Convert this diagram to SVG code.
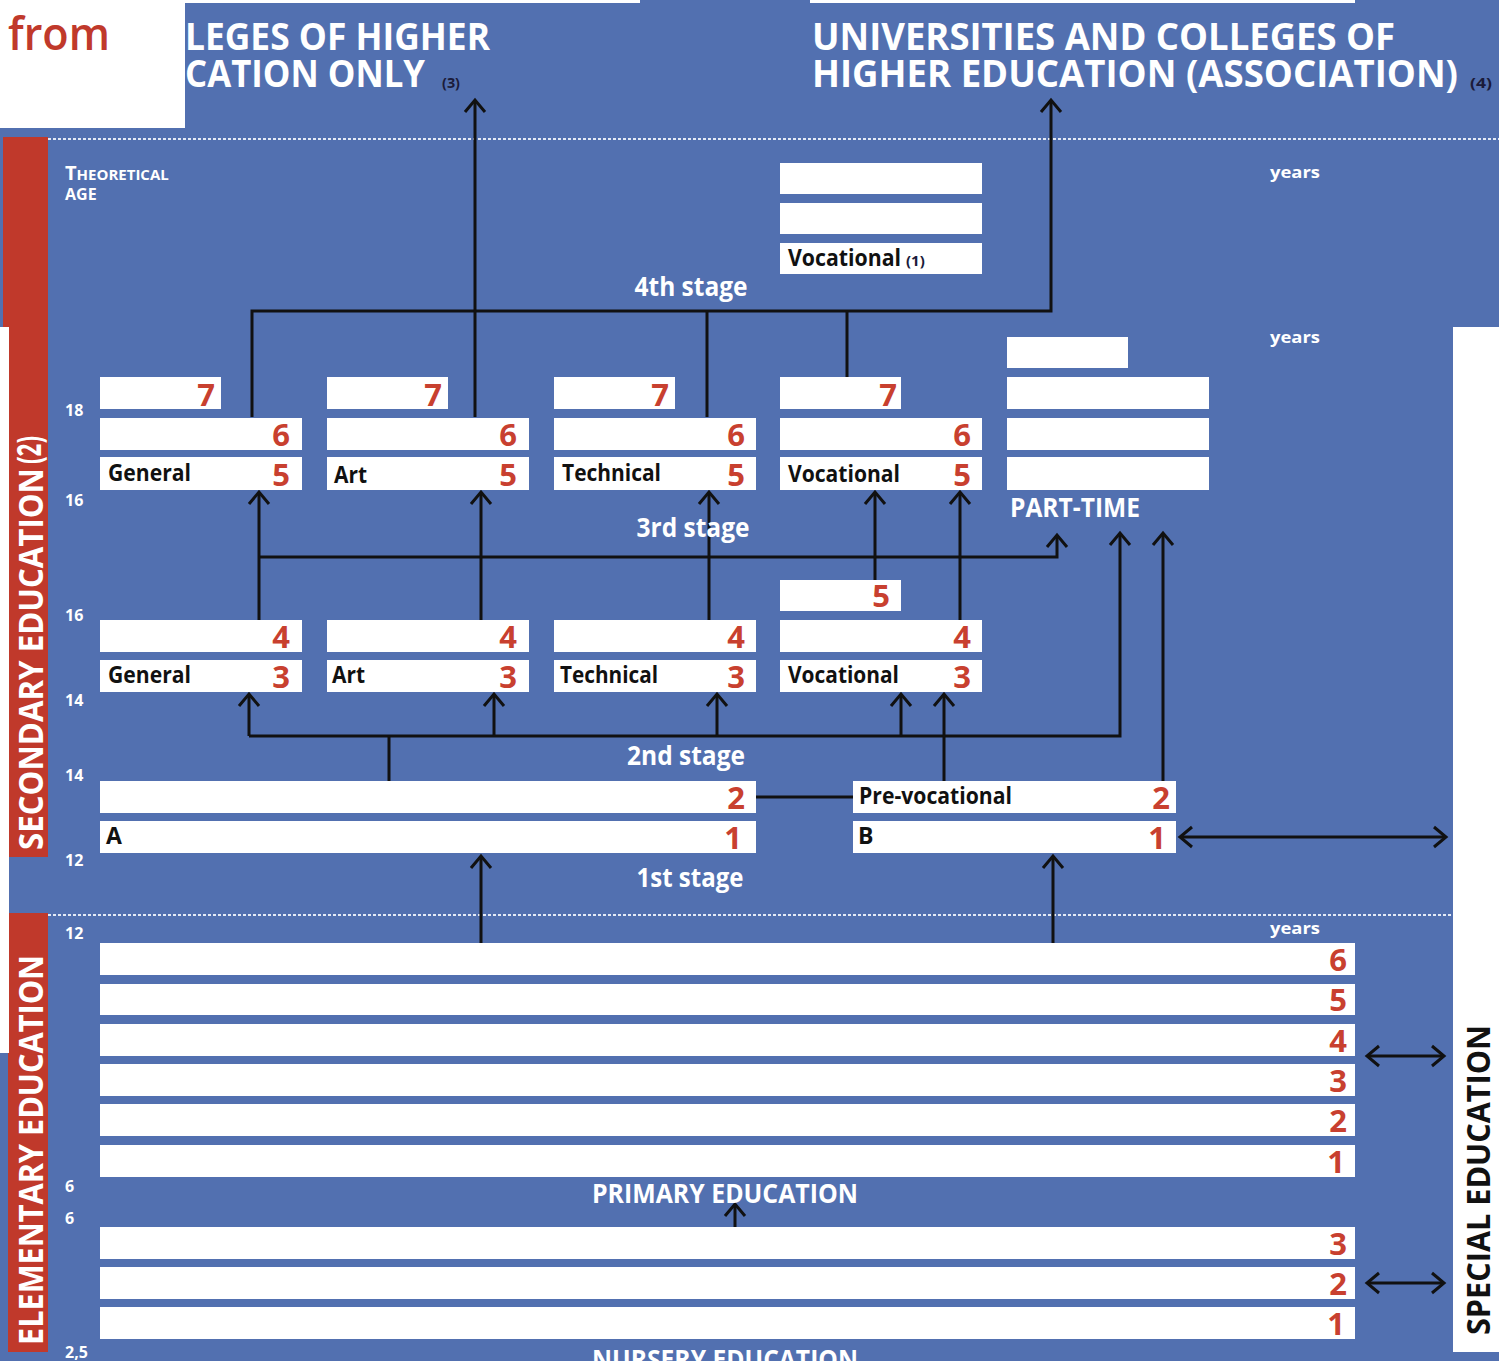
<svg xmlns="http://www.w3.org/2000/svg" width="1499" height="1361" viewBox="0 0 1499 1361">
<style>
.bg{fill:#5270b0}
.box{fill:#ffffff}
.num{font-family:"Open Sans","Liberation Sans",sans-serif;font-weight:bold;font-size:31px;fill:#c8402f;text-anchor:end}
.lbl{font-family:"Open Sans","Liberation Sans",sans-serif;font-weight:bold;font-size:23px;fill:#111111}
.stage{font-family:"Open Sans","Liberation Sans",sans-serif;font-weight:bold;font-size:27px;fill:#ffffff;text-anchor:middle}
.age{font-family:"Open Sans","Liberation Sans",sans-serif;font-weight:bold;font-size:16px;fill:#ffffff}
.title{font-family:"Open Sans","Liberation Sans",sans-serif;font-weight:bold;font-size:37px;fill:#ffffff}
.side{font-family:"Open Sans","Liberation Sans",sans-serif;font-weight:bold;font-size:34px;fill:#ffffff}
.note{font-family:"Open Sans","Liberation Sans",sans-serif;font-weight:bold;font-size:15px;fill:#1b1b3a}
.conn{stroke:#111111;stroke-width:3;fill:none}
.dots{stroke:#e3e9f5;stroke-width:2;stroke-dasharray:3 2}
</style>
<defs>
<marker id="ah" viewBox="-15 -13 18 26" markerWidth="18" markerHeight="26" refX="0" refY="0" orient="auto-start-reverse" markerUnits="userSpaceOnUse">
<path d="M-12,-10 L0,0 L-12,10" fill="none" stroke="#111111" stroke-width="3"/>
</marker>
</defs>

<rect class="bg" x="0" y="0" width="1499" height="1361"/>

<!-- top fragments -->
<rect class="box" x="185" y="0" width="455" height="3"/>
<rect class="box" x="810" y="0" width="545" height="3"/>

<!-- white corner with "from" -->
<g id="corner">
<rect class="box" x="0" y="0" width="185" height="128"/>
<text x="8" y="50" font-family="'Open Sans','Liberation Sans',sans-serif" font-weight="600" font-size="45" fill="#c0392b" textLength="102" lengthAdjust="spacingAndGlyphs">from</text>
</g>

<!-- titles -->
<g id="title-colleges">
<text class="title" x="185" y="50" textLength="305" lengthAdjust="spacingAndGlyphs">LEGES OF HIGHER</text>
<text class="title" x="185" y="87" textLength="240" lengthAdjust="spacingAndGlyphs">CATION ONLY</text>
<text class="note" x="442" y="88" textLength="18" lengthAdjust="spacingAndGlyphs">(3)</text>
</g>
<g id="title-universities">
<text class="title" x="812" y="50" textLength="583" lengthAdjust="spacingAndGlyphs">UNIVERSITIES AND COLLEGES OF</text>
<text class="title" x="812" y="87" textLength="646" lengthAdjust="spacingAndGlyphs">HIGHER EDUCATION (ASSOCIATION)</text>
<text class="note" x="1470" y="88" textLength="22" lengthAdjust="spacingAndGlyphs">(4)</text>
</g>

<!-- dotted separators -->
<line class="dots" x1="48" y1="139" x2="1499" y2="139"/>
<line class="dots" x1="48" y1="915" x2="1453" y2="915"/>

<!-- side bars -->
<g id="side-secondary">
<rect x="3" y="137" width="45" height="720" fill="#c0392b"/>
<text class="side" transform="translate(43,850) rotate(-90)" textLength="382" lengthAdjust="spacingAndGlyphs">SECONDARY EDUCATION</text>
<text class="side" transform="translate(41,464) rotate(-90)" font-size="18" textLength="28" lengthAdjust="spacingAndGlyphs">(2)</text>
</g>
<g id="side-elementary">
<rect x="8" y="913" width="40" height="439" fill="#c0392b"/>
<text class="side" transform="translate(43,1345) rotate(-90)" textLength="390" lengthAdjust="spacingAndGlyphs">ELEMENTARY EDUCATION</text>
</g>
<rect class="box" x="0" y="327" width="9" height="726"/>
<g id="special-education">
<rect class="box" x="1453" y="327" width="46" height="1025"/>
<text transform="translate(1490,1335) rotate(-90)" font-family="'Open Sans','Liberation Sans',sans-serif" font-weight="bold" font-size="33" fill="#111111" textLength="310" lengthAdjust="spacingAndGlyphs">SPECIAL EDUCATION</text>
</g>

<!-- age labels -->
<g id="ages">
<text class="age" x="65" y="180"><tspan font-size="20">T</tspan><tspan font-size="15">HEORETICAL</tspan></text>
<text class="age" x="65" y="200" font-size="15">AGE</text>
<text class="age" x="65" y="416">18</text>
<text class="age" x="65" y="506">16</text>
<text class="age" x="65" y="621">16</text>
<text class="age" x="65" y="706">14</text>
<text class="age" x="65" y="781">14</text>
<text class="age" x="65" y="866">12</text>
<text class="age" x="65" y="939">12</text>
<text class="age" x="65" y="1192">6</text>
<text class="age" x="65" y="1224">6</text>
<text class="age" x="65" y="1358">2,5</text>
<text class="age" x="1270" y="178" font-size="18" textLength="50" lengthAdjust="spacingAndGlyphs">years</text>
<text class="age" x="1270" y="343" font-size="18" textLength="50" lengthAdjust="spacingAndGlyphs">years</text>
<text class="age" x="1270" y="934" font-size="18" textLength="50" lengthAdjust="spacingAndGlyphs">years</text>
</g>

<!-- connectors -->
<g id="connectors">
<!-- 4th stage -->
<polyline class="conn" points="252,417 252,311 1051,311 1051,100" marker-end="url(#ah)"/>
<line class="conn" x1="475" y1="417" x2="475" y2="100" marker-end="url(#ah)"/>
<line class="conn" x1="707" y1="311" x2="707" y2="417"/>
<line class="conn" x1="847" y1="311" x2="847" y2="377"/>
<!-- 3rd stage -->
<polyline class="conn" points="259,557 1057,557 1057,535" marker-end="url(#ah)"/>
<line class="conn" x1="259" y1="620" x2="259" y2="492" marker-end="url(#ah)"/>
<line class="conn" x1="481" y1="620" x2="481" y2="492" marker-end="url(#ah)"/>
<line class="conn" x1="709" y1="620" x2="709" y2="492" marker-end="url(#ah)"/>
<line class="conn" x1="875" y1="580" x2="875" y2="492" marker-end="url(#ah)"/>
<line class="conn" x1="960" y1="620" x2="960" y2="492" marker-end="url(#ah)"/>
<!-- 2nd stage -->
<polyline class="conn" points="249,736 1120,736 1120,533" marker-end="url(#ah)"/>
<line class="conn" x1="249" y1="736" x2="249" y2="694" marker-end="url(#ah)"/>
<line class="conn" x1="494" y1="736" x2="494" y2="694" marker-end="url(#ah)"/>
<line class="conn" x1="717" y1="736" x2="717" y2="694" marker-end="url(#ah)"/>
<line class="conn" x1="901" y1="736" x2="901" y2="694" marker-end="url(#ah)"/>
<line class="conn" x1="944" y1="781" x2="944" y2="694" marker-end="url(#ah)"/>
<line class="conn" x1="389" y1="736" x2="389" y2="781"/>
<line class="conn" x1="1163" y1="781" x2="1163" y2="533" marker-end="url(#ah)"/>
<!-- 1st stage -->
<line class="conn" x1="756" y1="797" x2="853" y2="797"/>
<line class="conn" x1="1180" y1="837" x2="1446" y2="837" marker-start="url(#ah)" marker-end="url(#ah)"/>
<line class="conn" x1="481" y1="943" x2="481" y2="856" marker-end="url(#ah)"/>
<line class="conn" x1="1053" y1="943" x2="1053" y2="856" marker-end="url(#ah)"/>
<!-- elementary -->
<line class="conn" x1="735" y1="1227" x2="735" y2="1204" marker-end="url(#ah)"/>
<line class="conn" x1="1367" y1="1056" x2="1444" y2="1056" marker-start="url(#ah)" marker-end="url(#ah)"/>
<line class="conn" x1="1367" y1="1283" x2="1444" y2="1283" marker-start="url(#ah)" marker-end="url(#ah)"/>
</g>

<!-- 4th stage vocational -->
<g id="vocational-4th">
<rect class="box" x="780" y="163" width="202" height="31"/>
<rect class="box" x="780" y="203" width="202" height="31"/>
<rect class="box" x="780" y="243" width="202" height="31"/>
<text class="lbl" x="788" y="266" textLength="113" lengthAdjust="spacingAndGlyphs">Vocational</text>
<text class="note" x="906" y="266" font-size="15" fill="#111111">(1)</text>
</g>
<text class="stage" x="691" y="296" textLength="113" lengthAdjust="spacingAndGlyphs">4th stage</text>

<!-- 3rd stage -->
<g id="general-3rd">
<rect class="box" x="100" y="377" width="121" height="32"/>
<rect class="box" x="100" y="418" width="202" height="32"/>
<rect class="box" x="100" y="457" width="202" height="33"/>
<text class="num" x="215" y="406">7</text>
<text class="num" x="290" y="446">6</text>
<text class="num" x="290" y="486">5</text>
<text class="lbl" x="108" y="481" textLength="83" lengthAdjust="spacingAndGlyphs">General</text>
</g>
<g id="art-3rd">
<rect class="box" x="327" y="377" width="121" height="32"/>
<rect class="box" x="327" y="418" width="202" height="32"/>
<rect class="box" x="327" y="457" width="202" height="33"/>
<text class="num" x="442" y="406">7</text>
<text class="num" x="517" y="446">6</text>
<text class="num" x="517" y="486">5</text>
<text class="lbl" x="334" y="483" textLength="33" lengthAdjust="spacingAndGlyphs">Art</text>
</g>
<g id="technical-3rd">
<rect class="box" x="554" y="377" width="121" height="32"/>
<rect class="box" x="554" y="418" width="202" height="32"/>
<rect class="box" x="554" y="457" width="202" height="33"/>
<text class="num" x="669" y="406">7</text>
<text class="num" x="745" y="446">6</text>
<text class="num" x="745" y="486">5</text>
<text class="lbl" x="562" y="481" textLength="99" lengthAdjust="spacingAndGlyphs">Technical</text>
</g>
<g id="vocational-3rd">
<rect class="box" x="780" y="377" width="121" height="32"/>
<rect class="box" x="780" y="418" width="202" height="32"/>
<rect class="box" x="780" y="457" width="202" height="33"/>
<text class="num" x="897" y="406">7</text>
<text class="num" x="971" y="446">6</text>
<text class="num" x="971" y="486">5</text>
<text class="lbl" x="788" y="482" textLength="112" lengthAdjust="spacingAndGlyphs">Vocational</text>
</g>
<g id="part-time">
<rect class="box" x="1007" y="337" width="121" height="31"/>
<rect class="box" x="1007" y="377" width="202" height="32"/>
<rect class="box" x="1007" y="418" width="202" height="32"/>
<rect class="box" x="1007" y="457" width="202" height="33"/>
<text class="stage" x="1075" y="517" text-anchor="middle" textLength="130" lengthAdjust="spacingAndGlyphs">PART-TIME</text>
</g>
<text class="stage" x="693" y="537" textLength="113" lengthAdjust="spacingAndGlyphs">3rd stage</text>

<!-- middle 5 box -->
<g id="vocational-5">
<rect class="box" x="780" y="580" width="121" height="31"/>
<text class="num" x="890" y="607">5</text>
</g>

<!-- 2nd stage -->
<g id="general-2nd">
<rect class="box" x="100" y="620" width="202" height="32"/>
<rect class="box" x="100" y="660" width="202" height="32"/>
<text class="num" x="290" y="648">4</text>
<text class="num" x="290" y="688">3</text>
<text class="lbl" x="108" y="683" textLength="83" lengthAdjust="spacingAndGlyphs">General</text>
</g>
<g id="art-2nd">
<rect class="box" x="327" y="620" width="202" height="32"/>
<rect class="box" x="327" y="660" width="202" height="32"/>
<text class="num" x="517" y="648">4</text>
<text class="num" x="517" y="688">3</text>
<text class="lbl" x="332" y="683" textLength="33" lengthAdjust="spacingAndGlyphs">Art</text>
</g>
<g id="technical-2nd">
<rect class="box" x="554" y="620" width="202" height="32"/>
<rect class="box" x="554" y="660" width="202" height="32"/>
<text class="num" x="745" y="648">4</text>
<text class="num" x="745" y="688">3</text>
<text class="lbl" x="560" y="683" textLength="98" lengthAdjust="spacingAndGlyphs">Technical</text>
</g>
<g id="vocational-2nd">
<rect class="box" x="780" y="620" width="202" height="32"/>
<rect class="box" x="780" y="660" width="202" height="32"/>
<text class="num" x="971" y="648">4</text>
<text class="num" x="971" y="688">3</text>
<text class="lbl" x="788" y="683" textLength="111" lengthAdjust="spacingAndGlyphs">Vocational</text>
</g>
<text class="stage" x="686" y="765" textLength="118" lengthAdjust="spacingAndGlyphs">2nd stage</text>

<!-- 1st stage -->
<g id="stream-a">
<rect class="box" x="100" y="781" width="656" height="32"/>
<rect class="box" x="100" y="821" width="656" height="32"/>
<text class="num" x="745" y="809">2</text>
<text class="num" x="742" y="849">1</text>
<text class="lbl" x="106" y="844">A</text>
</g>
<g id="stream-b">
<rect class="box" x="853" y="781" width="323" height="32"/>
<rect class="box" x="853" y="821" width="323" height="32"/>
<text class="num" x="1170" y="809">2</text>
<text class="num" x="1166" y="849">1</text>
<text class="lbl" x="859" y="804" textLength="153" lengthAdjust="spacingAndGlyphs">Pre-vocational</text>
<text class="lbl" x="858" y="844" font-size="21">B</text>
</g>
<text class="stage" x="690" y="887" textLength="107" lengthAdjust="spacingAndGlyphs">1st stage</text>

<!-- primary -->
<g id="primary-education">
<rect class="box" x="100" y="943" width="1255" height="32"/>
<rect class="box" x="100" y="984" width="1255" height="31"/>
<rect class="box" x="100" y="1024" width="1255" height="32"/>
<rect class="box" x="100" y="1064" width="1255" height="32"/>
<rect class="box" x="100" y="1104" width="1255" height="32"/>
<rect class="box" x="100" y="1145" width="1255" height="32"/>
<text class="num" x="1347" y="971">6</text>
<text class="num" x="1347" y="1011">5</text>
<text class="num" x="1347" y="1052">4</text>
<text class="num" x="1347" y="1092">3</text>
<text class="num" x="1347" y="1132">2</text>
<text class="num" x="1345" y="1173">1</text>
<text class="stage" x="725" y="1203" textLength="266" lengthAdjust="spacingAndGlyphs">PRIMARY EDUCATION</text>
</g>

<!-- nursery -->
<g id="nursery-education">
<rect class="box" x="100" y="1227" width="1255" height="32"/>
<rect class="box" x="100" y="1267" width="1255" height="32"/>
<rect class="box" x="100" y="1307" width="1255" height="32"/>
<text class="num" x="1347" y="1255">3</text>
<text class="num" x="1347" y="1295">2</text>
<text class="num" x="1345" y="1335">1</text>
<text class="stage" x="725" y="1369" textLength="266" lengthAdjust="spacingAndGlyphs">NURSERY EDUCATION</text>
</g>
</svg>
